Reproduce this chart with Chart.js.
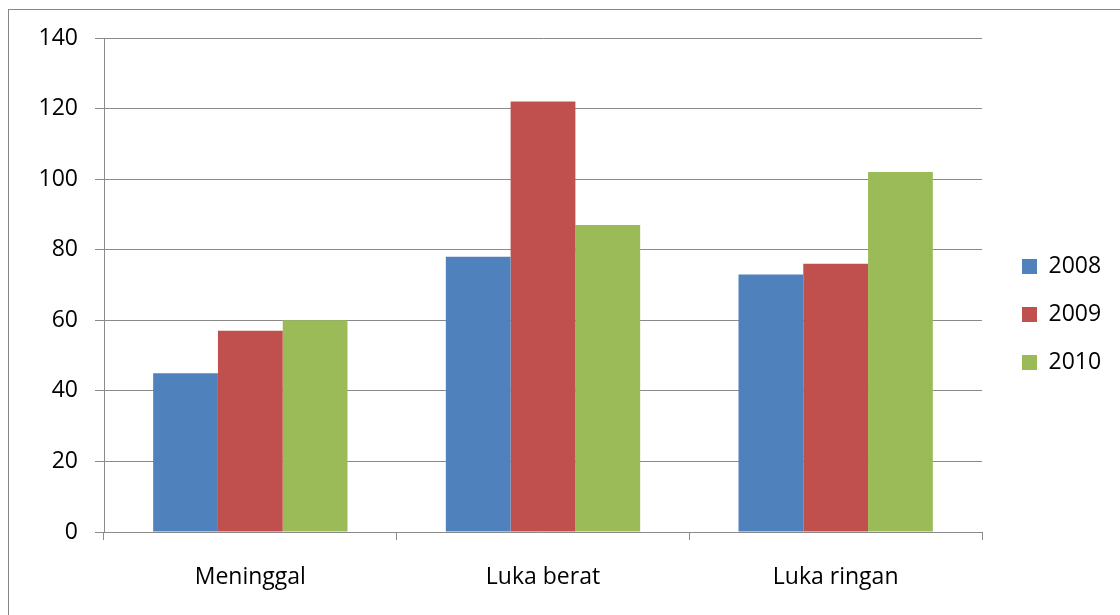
<!DOCTYPE html>
<html>
<head>
<meta charset="utf-8">
<script src="https://cdn.jsdelivr.net/npm/chart.js@4"></script>
<style>
  html, body { margin: 0; padding: 0; background: #fff; overflow: hidden; }
  #frame { position: absolute; left: 8px; top: 9px; width: 1300px; height: 800px; border: 1px solid #868686; }
  #wrap { position: absolute; left: 0; top: 0; width: 1120px; height: 615px; }
</style>
</head>
<body>
<div id="frame"></div>
<div id="wrap"><canvas id="chart" width="1120" height="615"></canvas></div>
<script>
// kategori dan nilai
const categories = ["Meninggal", "Luka berat", "Luka ringan"];
const years = ["2008", "2009", "2010"];
const values2008 = [45, 78, 73];
const values2009 = [57, 122, 76];
const values2010 = [60, 87, 102];
const yTicks = [0, 20, 40, 60, 80, 100, 120, 140];

const colors = ["#4F81BD", "#C0504D", "#9BBB59"];
const gridColor = "#8a8a8a";
const fontFamily = "'Open Sans', Lato, sans-serif";
const fontSize = 23;

// geser legenda ke posisi seperti di Excel
const legendPlacer = {
  id: "legendPlacer",
  afterLayout(chart) {
    const lg = chart.legend;
    const pad = lg.options.labels.padding;
    lg.left = 1022 - pad;
    lg.right = 1120;
    lg.width = lg.right - lg.left;
    lg.top = 255 - pad;
  },
};

const datasets = [values2008, values2009, values2010].map((vals, i) => ({
  label: years[i],
  data: vals,
  backgroundColor: colors[i],
  borderWidth: 0,
  categoryPercentage: 0.664,
  barPercentage: 1.0,
}));

new Chart(document.getElementById("chart"), {
  type: "bar",
  data: { labels: categories, datasets: datasets },
  plugins: [legendPlacer],
  options: {
    responsive: false,
    animation: false,
    layout: { padding: { left: 0, top: 38, right: 38, bottom: 0 } },
    scales: {
      x: {
        grid: {
          offset: true,
          drawOnChartArea: false,
          drawTicks: true,
          tickLength: 8,
          color: gridColor,
        },
        border: { color: gridColor },
        ticks: {
          color: "#000",
          padding: 24,
          font: { family: fontFamily, size: fontSize },
        },
        afterFit(scale) { scale.height = 83; },
      },
      y: {
        min: 0,
        max: 140,
        afterBuildTicks(scale) {
          scale.ticks = yTicks.map((v) => ({ value: v }));
        },
        grid: { color: gridColor, tickLength: 9 },
        border: { color: gridColor },
        ticks: {
          color: "#000",
          padding: 17,
          font: { family: fontFamily, size: fontSize },
        },
        afterFit(scale) { scale.width = 104; },
      },
    },
    plugins: {
      legend: {
        position: "right",
        align: "start",
        maxWidth: 100,
        labels: {
          boxWidth: 15,
          boxHeight: 15,
          padding: 25,
          color: "#000",
          font: { family: fontFamily, size: fontSize },
        },
      },
      tooltip: { enabled: false },
    },
  },
});
</script>
</body>
</html>
